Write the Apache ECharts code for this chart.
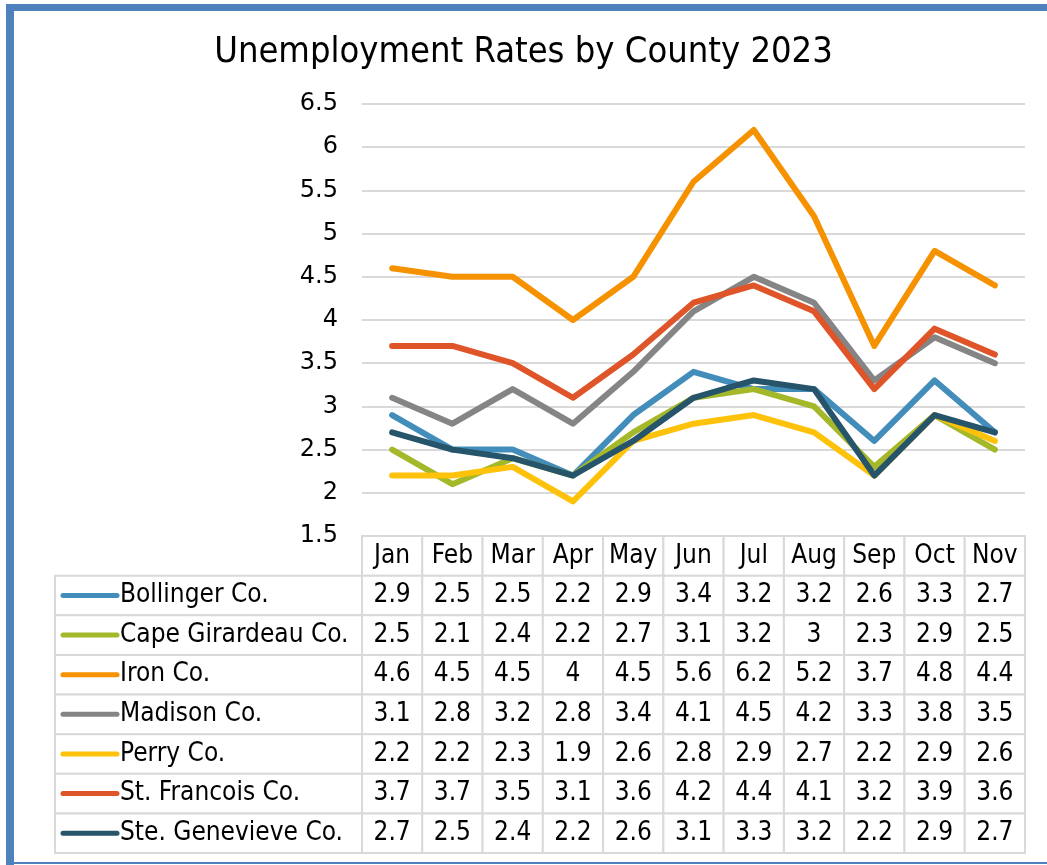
<!DOCTYPE html>
<html><head><meta charset="utf-8">
<script src="https://cdn.jsdelivr.net/npm/echarts@6/dist/echarts.min.js"></script>
<style>html,body{margin:0;padding:0;background:#fff}#c{width:1047px;height:865px}</style>
</head><body><div id="c"></div>
<script>
const months = ['Jan','Feb','Mar','Apr','May','Jun','Jul','Aug','Sep','Oct','Nov'];
const seriesNames = ['Bollinger Co.','Cape Girardeau Co.','Iron Co.','Madison Co.','Perry Co.','St. Francois Co.','Ste. Genevieve Co.'];
const bollinger   = [2.9,2.5,2.5,2.2,2.9,3.4,3.2,3.2,2.6,3.3,2.7];
const capeGir     = [2.5,2.1,2.4,2.2,2.7,3.1,3.2,3,2.3,2.9,2.5];
const iron        = [4.6,4.5,4.5,4,4.5,5.6,6.2,5.2,3.7,4.8,4.4];
const madison     = [3.1,2.8,3.2,2.8,3.4,4.1,4.5,4.2,3.3,3.8,3.5];
const perry       = [2.2,2.2,2.3,1.9,2.6,2.8,2.9,2.7,2.2,2.9,2.6];
const stFrancois  = [3.7,3.7,3.5,3.1,3.6,4.2,4.4,4.1,3.2,3.9,3.6];
const steGen      = [2.7,2.5,2.4,2.2,2.6,3.1,3.3,3.2,2.2,2.9,2.7];
const yTicks = {min:1.5, max:6.5, interval:0.5};

const allData = [bollinger,capeGir,iron,madison,perry,stFrancois,steGen];
const colors = ['#438DBA','#A5B82A','#F69200','#858585','#FEC20A','#DF5428','#26546A'];
const FONT = '"DejaVu Sans Condensed","DejaVu Sans",sans-serif';
const FONT2 = '"DejaVu Sans",sans-serif';
const BORDER = '#d9d9d9';

const tableRows = [' '].concat(seriesNames);
const tableCells = [];
for (let r = 0; r < tableRows.length; r++) for (let c = 0; c < months.length; c++) tableCells.push([c, r]);
const labelCells = seriesNames.map((n,i)=>[0,i]);

const chart = echarts.init(document.getElementById('c'));
chart.setOption({
  backgroundColor:'#fff',
  animation:false,
  title:{text:'Unemployment Rates by County 2023',left:'center',top:30,padding:[5,0,5,16],
    textStyle:{fontFamily:FONT,fontSize:36,fontWeight:'normal',color:'#000'}},
  grid:[
    {left:362,width:663,top:104,height:432},
    {left:362,width:663,top:536,height:317},
    {left:55,width:307,top:536+317/8,height:317*7/8}
  ],
  xAxis:[
    {gridIndex:0,type:'category',data:months,boundaryGap:true,axisLine:{show:false},axisTick:{show:false},axisLabel:{show:false}},
    {gridIndex:1,type:'category',data:months,boundaryGap:true,show:false},
    {gridIndex:2,type:'category',data:[''],boundaryGap:true,show:false}
  ],
  yAxis:[
    {gridIndex:0,type:'value',min:yTicks.min,max:yTicks.max,interval:yTicks.interval,
      axisLine:{show:false},axisTick:{show:false},
      axisLabel:{fontFamily:FONT2,fontSize:24,color:'#000',margin:24},
      splitLine:{show:true,lineStyle:{color:BORDER,width:2}}},
    {gridIndex:1,type:'category',data:tableRows,inverse:true,show:false},
    {gridIndex:2,type:'category',data:seriesNames,inverse:true,show:false}
  ],
  series: seriesNames.map((n,i)=>({
    name:n,type:'line',xAxisIndex:0,yAxisIndex:0,data:allData[i],
    symbol:'none',lineStyle:{width:6,color:colors[i],cap:'round',join:'round'},
    itemStyle:{color:colors[i]},z:2+i
  })).concat([
    {type:'custom',xAxisIndex:1,yAxisIndex:1,data:tableCells,
      renderItem:function(params,api){
        const c=api.value(0), r=api.value(1);
        const p=api.coord([c,r]); const s=api.size([1,1]);
        const txt = r===0 ? months[c] : String(allData[r-1][c]);
        return {type:'rect',shape:{x:p[0]-s[0]/2,y:p[1]-s[1]/2,width:s[0],height:s[1]},
          style:{fill:'#fff',stroke:BORDER,lineWidth:2},
          textContent:{style:{text:txt,fontFamily:FONT,fontSize:26,fill:'#000'}},
          textConfig:{position:'inside'}};
      }},
    {type:'custom',xAxisIndex:2,yAxisIndex:2,data:labelCells,
      renderItem:function(params,api){
        const r=api.value(1);
        const p=api.coord([0,r]); const s=api.size([1,1]);
        const x0=p[0]-s[0]/2, y0=p[1]-s[1]/2;
        return {type:'group',children:[
          {type:'rect',shape:{x:x0,y:y0,width:s[0],height:s[1]},style:{fill:'#fff',stroke:BORDER,lineWidth:2}},
          {type:'line',shape:{x1:x0+8,y1:p[1],x2:x0+62,y2:p[1]},style:{stroke:colors[r],lineWidth:5,lineCap:'round'}},
          {type:'text',x:x0+65,y:p[1],style:{text:seriesNames[r],fontFamily:FONT,fontSize:26,fill:'#000',verticalAlign:'middle',align:'left'}}
        ]};
      }}
  ]),
  graphic:[
    {type:'rect',shape:{x:6,y:4,width:1041,height:7},style:{fill:'#4F81BD'},silent:true},
    {type:'rect',shape:{x:6,y:4,width:8,height:861},style:{fill:'#4F81BD'},silent:true},
    {type:'rect',shape:{x:6,y:862,width:1041,height:2},style:{fill:'#4F81BD'},silent:true}
  ]
});
</script></body></html>
